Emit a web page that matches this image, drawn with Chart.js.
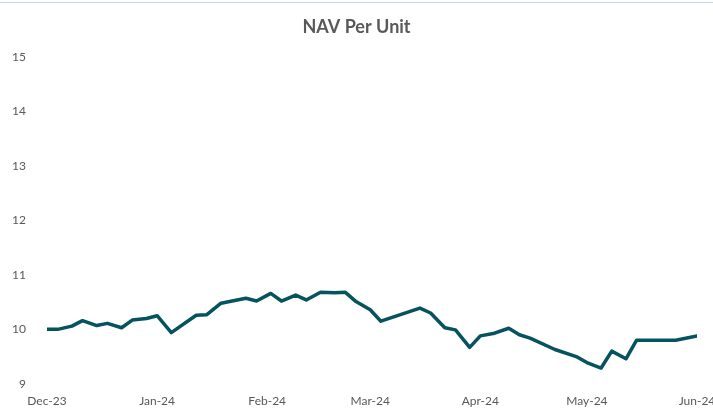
<!DOCTYPE html>
<html>
<head>
<meta charset="utf-8">
<script src="https://cdn.jsdelivr.net/npm/chart.js@4"></script>
<style>
  html, body { margin: 0; padding: 0; background: #ffffff; }
  #wrap { position: relative; width: 713px; height: 412px; }
  #topline { position: absolute; left: 0; top: 2px; width: 713px; height: 1px; background: #c8d7de; z-index: 2; }
  canvas { position: absolute; left: 0; top: 0; }
</style>
</head>
<body>
<div id="wrap">
  <div id="topline"></div>
  <canvas id="c" width="713" height="412"></canvas>
</div>
<script>
const chartTitle = 'NAV Per Unit';
const dates = [
  '2023-12-01','2023-12-04','2023-12-08','2023-12-11','2023-12-15','2023-12-18','2023-12-22','2023-12-25','2023-12-29',
  '2024-01-01','2024-01-05','2024-01-12','2024-01-15','2024-01-19','2024-01-26','2024-01-29',
  '2024-02-02','2024-02-05','2024-02-09','2024-02-12','2024-02-16','2024-02-20','2024-02-23','2024-02-26',
  '2024-03-01','2024-03-04','2024-03-15','2024-03-18','2024-03-22','2024-03-25','2024-03-29',
  '2024-04-01','2024-04-05','2024-04-09','2024-04-12','2024-04-15','2024-04-22','2024-04-28',
  '2024-05-01','2024-05-05','2024-05-08','2024-05-12','2024-05-15','2024-05-19','2024-05-22','2024-05-26',
  '2024-06-01'
];
const navValues = [
  10.00,10.00,10.06,10.16,10.07,10.11,10.03,10.17,10.20,
  10.25,9.94,10.26,10.27,10.48,10.57,10.52,
  10.66,10.52,10.63,10.54,10.68,10.67,10.68,10.51,
  10.36,10.15,10.39,10.30,10.03,9.99,9.67,
  9.88,9.93,10.02,9.90,9.84,9.63,9.50,
  9.39,9.29,9.60,9.46,9.80,9.80,9.80,9.80,
  9.88
];
const monthTickDates = ['2023-12-01','2024-01-01','2024-02-01','2024-03-01','2024-04-01','2024-05-01','2024-06-01'];
const monthTickLabels = ['Dec-23','Jan-24','Feb-24','Mar-24','Apr-24','May-24','Jun-24'];
const yMin = 9, yMax = 15, yStep = 1;

const origin = Date.UTC(2023, 11, 1);
function dayIndex(s) {
  const p = s.split('-').map(Number);
  return (Date.UTC(p[0], p[1] - 1, p[2]) - origin) / 86400000;
}
const points = dates.map((d, i) => ({ x: dayIndex(d), y: navValues[i] }));
const tickDays = monthTickDates.map(dayIndex);

const textColor = '#595959';
const fontFamily = 'Lato, "Open Sans", sans-serif';

new Chart(document.getElementById('c'), {
  type: 'line',
  data: {
    datasets: [{
      label: chartTitle,
      data: points,
      borderColor: '#04535f',
      borderWidth: 3.5,
      pointRadius: 0,
      tension: 0,
      borderJoinStyle: 'round',
      borderCapStyle: 'round',
      fill: false
    }]
  },
  options: {
    responsive: false,
    animation: false,
    layout: { padding: { left: 0, right: 0, top: 0, bottom: 0 } },
    plugins: {
      legend: { display: false },
      tooltip: { enabled: false },
      title: {
        display: true,
        text: chartTitle,
        color: textColor,
        font: { family: fontFamily, size: 18, weight: 'bold' },
        padding: { top: 16, bottom: 19.5 }
      }
    },
    scales: {
      x: {
        type: 'linear',
        min: tickDays[0],
        max: tickDays[tickDays.length - 1],
        grid: { display: false, drawTicks: false },
        border: { display: false },
        afterBuildTicks: (scale) => { scale.ticks = tickDays.map(v => ({ value: v })); },
        afterFit: (scale) => { scale.height = 26; scale.paddingRight = 16; scale.paddingLeft = 0; },
        ticks: {
          autoSkip: false,
          maxRotation: 0,
          padding: 10.5,
          color: textColor,
          font: { family: fontFamily, size: 12 },
          callback: (v) => { const i = tickDays.indexOf(v); return i >= 0 ? monthTickLabels[i] : ''; }
        }
      },
      y: {
        min: yMin,
        max: yMax,
        grid: { display: false, drawTicks: false },
        border: { display: false },
        afterFit: (scale) => { scale.width = 47; },
        ticks: {
          stepSize: yStep,
          padding: 21,
          color: textColor,
          font: { family: fontFamily, size: 12 }
        }
      }
    }
  }
});
</script>
</body>
</html>
